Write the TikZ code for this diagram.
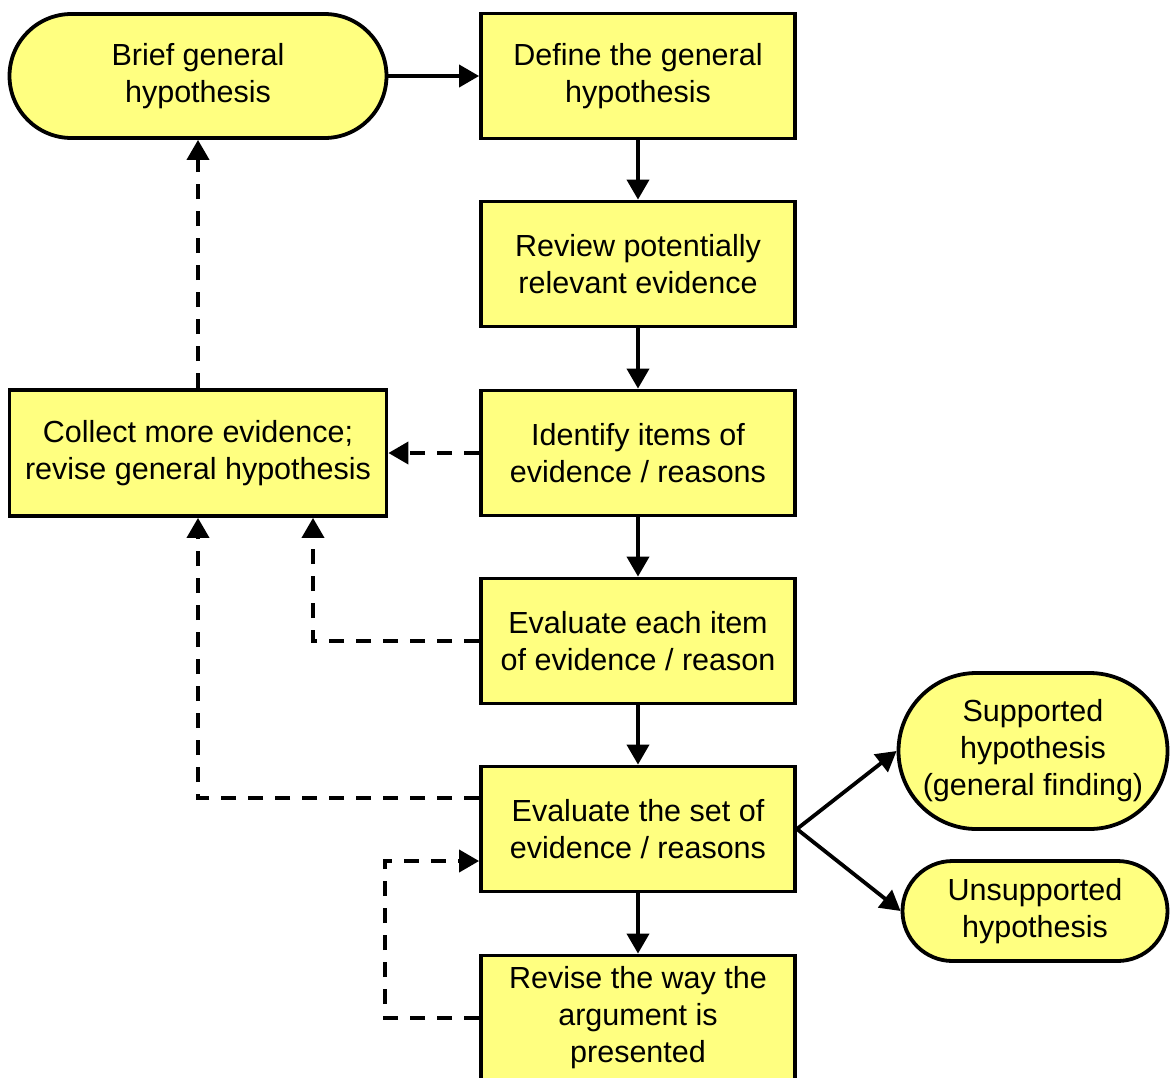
\documentclass[tikz,border=0pt]{standalone}
\usepackage{fontspec}
\setmainfont{Liberation Sans}
\usetikzlibrary{arrows.meta}
\definecolor{boxfill}{RGB}{255,255,128}
\begin{document}
\begin{tikzpicture}[x=1pt,y=-1pt,
  base/.style={draw=black, line width=3.8pt, fill=boxfill, inner sep=0pt,
    align=center, font=\fontsize{30.5}{37}\selectfont},
  stepbox/.style={base, rectangle, minimum width=314pt, minimum height=125pt},
  pill/.style={base, rectangle, rounded corners=#1},
  flow/.style={line width=3.8pt, -{Triangle[length=20pt,width=22pt]}},
  back/.style={flow, dash pattern=on 15pt off 12pt}
]
\clip (0,0) rectangle (1170,1077);
\fill[white] (0,0) rectangle (1170,1077);

% main column
\node[stepbox] (define) at (638,76)  {Define the general\\hypothesis};
\node[stepbox] (review) at (638,264) {Review potentially\\relevant evidence};
\node[stepbox] (ident)  at (638,453) {Identify items of\\evidence / reasons};
\node[stepbox] (evalE)  at (638,641) {Evaluate each item\\of evidence / reason};
\node[stepbox] (evalS)  at (638,829) {Evaluate the set of\\evidence / reasons};
\node[stepbox] (revise) at (638,1018) {Revise the way the\\argument is\\presented};

% left column
\node[pill=62pt, minimum width=377pt, minimum height=124pt] (brief) at (198,76) {Brief general\\hypothesis};
\node[stepbox, minimum width=377pt, minimum height=126pt] (collect) at (198,453) {Collect more evidence;\\revise general hypothesis};

% outcomes
\node[pill=78pt, minimum width=269pt, minimum height=156pt] (supp) at (1033,751) {Supported\\hypothesis\\(general finding)};
\node[pill=50pt, minimum width=265pt, minimum height=100pt] (unsupp) at (1035,911) {Unsupported\\hypothesis};

% forward flow
\draw[flow] (brief) -- (define);
\draw[flow] (define) -- (review);
\draw[flow] (review) -- (ident);
\draw[flow] (ident) -- (evalE);
\draw[flow] (evalE) -- (evalS);
\draw[flow] (evalS) -- (revise);
\draw[flow] (evalS.east) -- (supp.west);
\draw[flow] (evalS.east) -- (unsupp.west);

% feedback loops
\draw[back] (ident.west) -- (collect.east);
\draw[back] (collect.north) -- (brief.south);
\draw[back] (evalE.west) -| ([xshift=115pt]collect.south);
\draw[back] ([yshift=31pt]evalS.west) -| (collect.south);
\draw[back] (revise.west) -- ++(-94,0) |- ([yshift=-32pt]evalS.west);
\end{tikzpicture}
\end{document}
